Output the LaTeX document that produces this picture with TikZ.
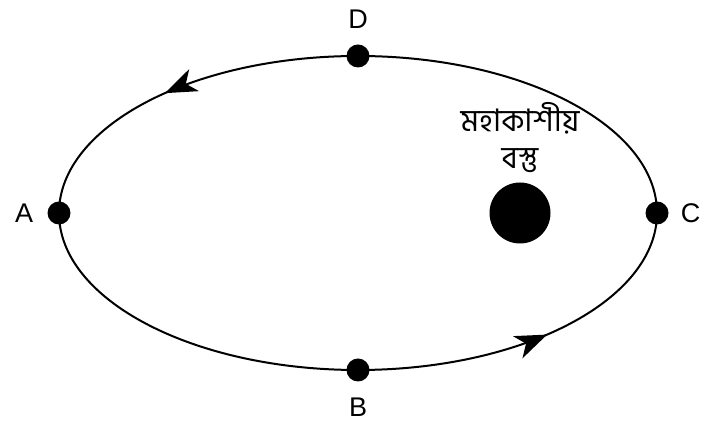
\documentclass[tikz,border=0pt]{standalone}
\usepackage{fontspec}
\setmainfont{Liberation Sans}
\newfontfamily\bengfont[Script=Bengali]{Hind Siliguri}
\usetikzlibrary{arrows.meta,positioning,decorations.markings}

\begin{document}
\begin{tikzpicture}[x=1pt,y=1pt,>=Stealth,
  pt/.style={circle,fill=black,inner sep=0pt,minimum size=23pt},
  lbl/.style={font=\fontsize{27}{30}\selectfont,inner sep=0pt}]
\useasboundingbox (0,0) rectangle (701,430);
% ---------- orbit ----------
\coordinate (O) at (358,217);
\draw[line width=2pt,postaction={decorate},decoration={markings,
    mark=at position 0.385 with {\arrow{Stealth[length=32pt,width=24pt,inset=9pt]}},
    mark=at position 0.882 with {\arrow{Stealth[length=32pt,width=24pt,inset=9pt]}}}]
  (O) ellipse [x radius=299,y radius=157];
% ---------- points on the orbit ----------
\node[pt] (A) at (59,217) {};
\node[pt] (C) at (657,217) {};
\node[pt] (D) at (358,374) {};
\node[pt] (B) at (358,60) {};
\node[lbl,left=14pt of A] {A};
\node[lbl,right=12pt of C] {C};
\node[lbl,above=16pt of D] {D};
\node[lbl,below=16pt of B] {B};
% ---------- central body ----------
\node[circle,fill=black,inner sep=0pt,minimum size=61pt] (body) at (520,217) {};
\node[align=center,inner sep=0pt,font=\bengfont\fontsize{31}{37}\selectfont,above=9pt of body] (name) {মহাকাশীয়\\বস্তু};
\end{tikzpicture}
\end{document}
